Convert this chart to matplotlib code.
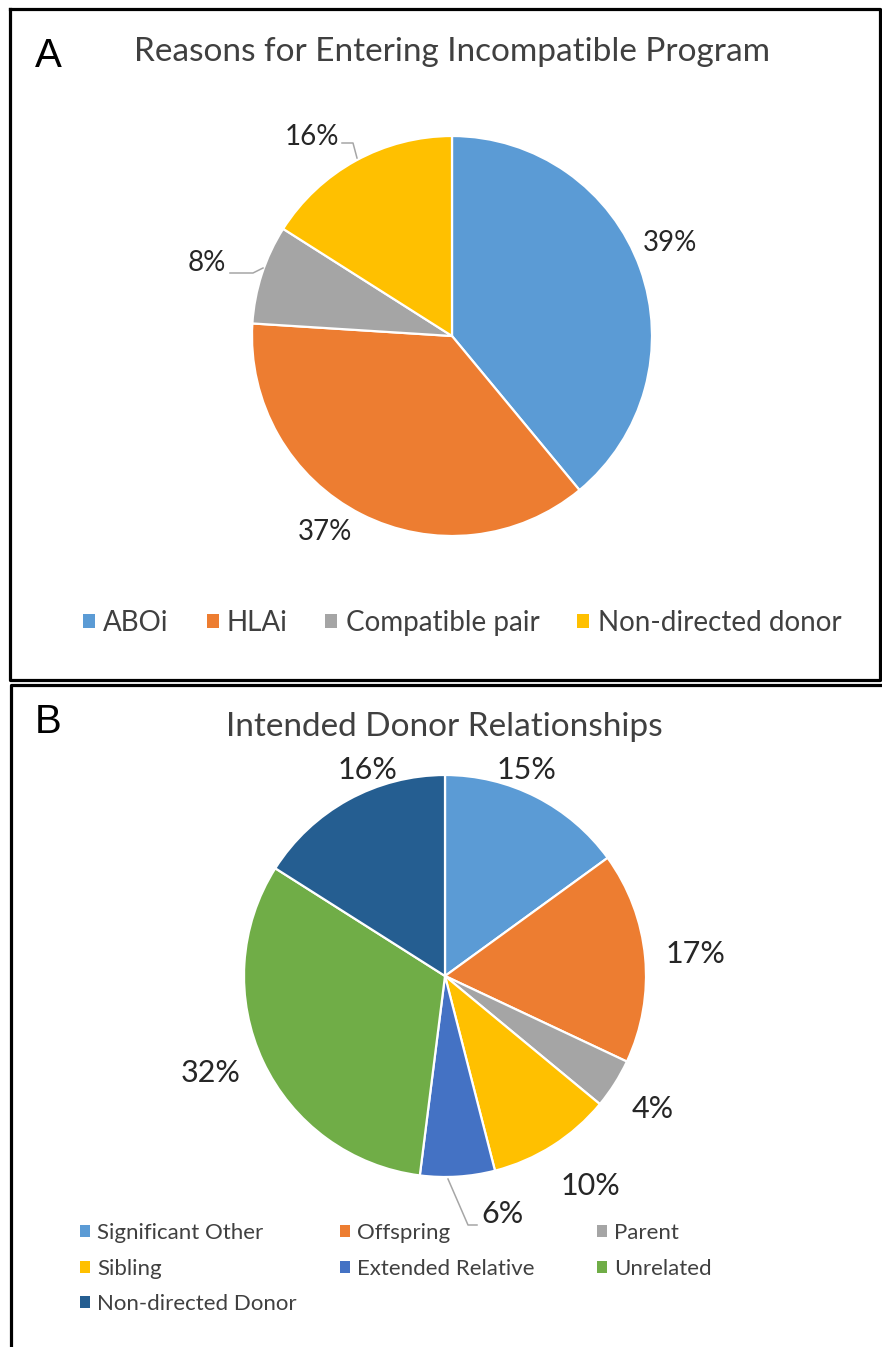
import matplotlib
matplotlib.use("Agg")
import matplotlib.pyplot as plt
from matplotlib.patches import Patch
from matplotlib.lines import Line2D
import numpy as np

plt.rcParams['font.family'] = ['Lato', 'DejaVu Sans']

# ---------------- data ----------------
title_a = "Reasons for Entering Incompatible Program"
cats_a = ["ABOi", "HLAi", "Compatible pair", "Non-directed donor"]
vals_a = [39, 37, 8, 16]
cols_a = ["#5B9BD5", "#ED7D31", "#A5A5A5", "#FFC000"]

title_b = "Intended Donor Relationships"
cats_b = ["Significant Other", "Offspring", "Parent", "Sibling",
          "Extended Relative", "Unrelated", "Non-directed Donor"]
vals_b = [15, 17, 4, 10, 6, 32, 16]
cols_b = ["#5B9BD5", "#ED7D31", "#A5A5A5", "#FFC000",
          "#4472C4", "#70AD47", "#255E91"]

# ---------------- layout ----------------
W, H = 882, 1347
fig = plt.figure(figsize=(W / 100, H / 100), dpi=100)


def fx(x):
    return x / W


def fy(y):
    return 1 - y / H


def pie_axes(cx, cy, r):
    ax = fig.add_axes([fx(cx - r), fy(cy + r), 2 * r / W, 2 * r / H])
    return ax


def draw_pie(ax, vals, cols, lab_layout, fsize):
    wedges, _ = ax.pie(vals, colors=cols, startangle=90, counterclock=False,
                       radius=1, wedgeprops=dict(edgecolor='white', linewidth=1.6))
    ax.set_xlim(-1, 1)
    ax.set_ylim(-1, 1)
    ax.axis('off')
    for w, v, (dist, dang) in zip(wedges, vals, lab_layout):
        mid = np.deg2rad((w.theta1 + w.theta2) / 2 + dang)
        ax.text(dist * np.cos(mid), dist * np.sin(mid), f"{v}%",
                ha='center', va='center', fontsize=fsize, color='#262626',
                clip_on=False)
    return wedges


def leader(ax, pts_px, cx, cy, r):
    xs = [(p[0] - cx) / r for p in pts_px]
    ys = [(cy - p[1]) / r for p in pts_px]
    ax.add_line(Line2D(xs, ys, color='#A6A6A6', lw=1.1, clip_on=False))


# Panel borders
lw_border = 2.3
fig.add_artist(Line2D([fx(10), fx(880), fx(880), fx(10), fx(10)],
                      [fy(9), fy(9), fy(680), fy(680), fy(9)],
                      color='black', lw=lw_border))
fig.add_artist(Line2D([fx(882), fx(11), fx(11)],
                      [fy(685), fy(685), fy(1347)],
                      color='black', lw=lw_border))

# ---------------- Panel A ----------------
cxA, cyA, rA = 452, 336, 200
axA = pie_axes(cxA, cyA, rA)
lab_a = [(1.185, 3.3), (1.167, -5.9), (1.278, 1.4), (1.217, 6.3)]
draw_pie(axA, vals_a, cols_a, lab_a, 20)
leader(axA, [(230, 273), (253, 273), (263, 268)], cxA, cyA, rA)
leader(axA, [(342, 143), (353, 143), (357, 158)], cxA, cyA, rA)

fig.text(fx(48), fy(56), "A", fontsize=29, ha='center', va='center',
         color='black', family=['Liberation Sans'])
fig.text(fx(452), fy(52), title_a, fontsize=24, ha='center', va='center',
         color='#404040')

hA = [Patch(facecolor=c, edgecolor='none') for c in cols_a]
fig.legend(hA, cats_a, loc='center left', bbox_to_anchor=(fx(83), fy(623)),
           ncol=4, frameon=False, fontsize=20, handlelength=0.43,
           handleheight=0.43, handletextpad=0.3, columnspacing=1.36,
           borderpad=0, borderaxespad=0, labelcolor='#404040')

# ---------------- Panel B ----------------
cxB, cyB, rB = 445, 976, 201
axB = pie_axes(cxB, cyB, rB)
lab_b = [(1.101, 5.5), (1.249, -0.4), (1.228, -0.2), (1.272, 2.4),
         (1.218, 9.9), (1.26, -2.7), (1.094, -8.3)]
draw_pie(axB, vals_b, cols_b, lab_b, 22)
leader(axB, [(448, 1179), (468, 1225), (477, 1225)], cxB, cyB, rB)

fig.text(fx(48), fy(722), "B", fontsize=29, ha='center', va='center',
         color='black', family=['Liberation Sans'])
fig.text(fx(444), fy(727), title_b, fontsize=24, ha='center', va='center',
         color='#404040')

# legend in three fixed columns, filled row by row
col_x = [80, 340, 597]
for j, x0 in enumerate(col_x):
    idx = list(range(j, len(cats_b), 3))
    h = [Patch(facecolor=cols_b[i], edgecolor='none') for i in idx]
    l = [cats_b[i] for i in idx]
    fig.legend(h, l, loc='upper left', bbox_to_anchor=(fx(x0), fy(1223)),
               ncol=1, frameon=False, fontsize=16, handlelength=0.45,
               handleheight=0.45, handletextpad=0.32,
               labelspacing=0.70, borderpad=0, borderaxespad=0,
               labelcolor='#404040')

fig.savefig("out.png", dpi=100)
